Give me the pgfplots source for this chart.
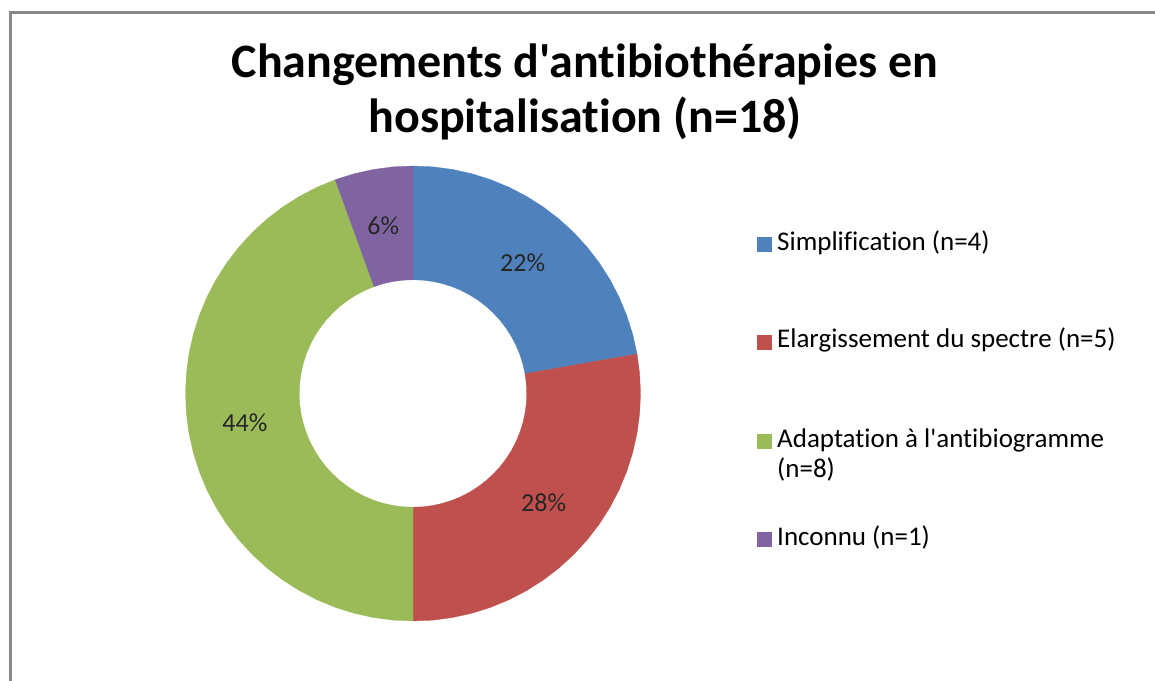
\documentclass[border=0pt]{standalone}
\usepackage{pgfplots}
\pgfplotsset{compat=1.18}
\usepgfplotslibrary{polar}
\usepackage{fontspec}
\setmainfont{Carlito}[Ligatures={NoCommon}]
\newfontfamily\titlefont{Carlito}[Ligatures={NoCommon}]
\newfontfamily\legfont{Carlito}[Ligatures={NoCommon}]
\definecolor{cBlue}{HTML}{4F81BD}
\definecolor{cRed}{HTML}{C0504D}
\definecolor{cGreen}{HTML}{9BBB59}
\definecolor{cPurple}{HTML}{8064A2}
\definecolor{cFrame}{RGB}{136,136,136}
\begin{document}
\begin{tikzpicture}[x=1bp,y=1bp]
\useasboundingbox (0,0) rectangle (1155,681);
\draw[cFrame, line width=3bp] (10,-5) -- (10,668.5) -- (1160,668.5);
% title
\node[anchor=base, inner sep=0pt, font={\titlefont\bfseries\fontsize{48bp}{55bp}\selectfont}] at (585,603) {Changements d'antibiothérapies en};
\node[anchor=base, inner sep=0pt, font={\titlefont\bfseries\fontsize{48bp}{55bp}\selectfont}] at (585,548) {hospitalisation (n=18)};
\begin{polaraxis}[
  at={(413bp,287.5bp)}, anchor=center,
  width=455bp, height=455bp, scale only axis,
  hide axis, clip=false, ymin=0, ymax=1,
]
\addplot[fill=cBlue, draw=cBlue, line width=0.3bp] coordinates {
(90,1)(85,1)(80,1)(75,1)(70,1)(65,1)(60,1)(55,1)(50,1)(45,1)(40,1)(35,1)(30,1)(25,1)(20,1)(15,1)(10,1)
(10,0.5)(15,0.5)(20,0.5)(25,0.5)(30,0.5)(35,0.5)(40,0.5)(45,0.5)(50,0.5)(55,0.5)(60,0.5)(65,0.5)(70,0.5)(75,0.5)(80,0.5)(85,0.5)(90,0.5)
} -- cycle;
\addplot[fill=cRed, draw=cRed, line width=0.3bp] coordinates {
(10,1)(5,1)(0,1)(-5,1)(-10,1)(-15,1)(-20,1)(-25,1)(-30,1)(-35,1)(-40,1)(-45,1)(-50,1)(-55,1)(-60,1)(-65,1)(-70,1)(-75,1)(-80,1)(-85,1)(-90,1)
(-90,0.5)(-85,0.5)(-80,0.5)(-75,0.5)(-70,0.5)(-65,0.5)(-60,0.5)(-55,0.5)(-50,0.5)(-45,0.5)(-40,0.5)(-35,0.5)(-30,0.5)(-25,0.5)(-20,0.5)(-15,0.5)(-10,0.5)(-5,0.5)(0,0.5)(5,0.5)(10,0.5)
} -- cycle;
\addplot[fill=cGreen, draw=cGreen, line width=0.3bp] coordinates {
(-90,1)(-95,1)(-100,1)(-105,1)(-110,1)(-115,1)(-120,1)(-125,1)(-130,1)(-135,1)(-140,1)(-145,1)(-150,1)(-155,1)(-160,1)(-165,1)(-170,1)(-175,1)(-180,1)(-185,1)(-190,1)(-195,1)(-200,1)(-205,1)(-210,1)(-215,1)(-220,1)(-225,1)(-230,1)(-235,1)(-240,1)(-245,1)(-250,1)
(-250,0.5)(-245,0.5)(-240,0.5)(-235,0.5)(-230,0.5)(-225,0.5)(-220,0.5)(-215,0.5)(-210,0.5)(-205,0.5)(-200,0.5)(-195,0.5)(-190,0.5)(-185,0.5)(-180,0.5)(-175,0.5)(-170,0.5)(-165,0.5)(-160,0.5)(-155,0.5)(-150,0.5)(-145,0.5)(-140,0.5)(-135,0.5)(-130,0.5)(-125,0.5)(-120,0.5)(-115,0.5)(-110,0.5)(-105,0.5)(-100,0.5)(-95,0.5)(-90,0.5)
} -- cycle;
\addplot[fill=cPurple, draw=cPurple, line width=0.3bp] coordinates {
(-250,1)(-255,1)(-260,1)(-265,1)(-270,1)
(-270,0.5)(-265,0.5)(-260,0.5)(-255,0.5)(-250,0.5)
} -- cycle;
\node[text=black!85, font={\legfont\fontsize{26bp}{30bp}\selectfont}] at (axis cs:50,0.75) {22\%};
\node[text=black!85, font={\legfont\fontsize{26bp}{30bp}\selectfont}] at (axis cs:-40,0.75) {28\%};
\node[text=black!85, font={\legfont\fontsize{26bp}{30bp}\selectfont}] at (axis cs:-170,0.75) {44\%};
\node[text=black!85, font={\legfont\fontsize{26bp}{30bp}\selectfont}] at (axis cs:100,0.75) {6\%};
\end{polaraxis}
% legend
\fill[cBlue] (757,429) rectangle (772,444);
\node[anchor=base west, inner sep=0pt, font={\legfont\fontsize{27bp}{32bp}\selectfont}] at (777,430) {Simplification (n=4)};
\fill[cRed] (757,331) rectangle (772,346);
\node[anchor=base west, inner sep=0pt, font={\legfont\fontsize{27bp}{32bp}\selectfont}] at (777,333) {Elargissement du spectre (n=5)};
\fill[cGreen] (757,232) rectangle (772,247);
\node[anchor=base west, inner sep=0pt, font={\legfont\fontsize{27bp}{32bp}\selectfont}] at (777,233.5) {Adaptation à l'antibiogramme};
\node[anchor=base west, inner sep=0pt, font={\legfont\fontsize{27bp}{32bp}\selectfont}] at (777,203) {(n=8)};
\fill[cPurple] (757,134) rectangle (772,149);
\node[anchor=base west, inner sep=0pt, font={\legfont\fontsize{27bp}{32bp}\selectfont}] at (777,135) {Inconnu (n=1)};
\end{tikzpicture}
\end{document}
